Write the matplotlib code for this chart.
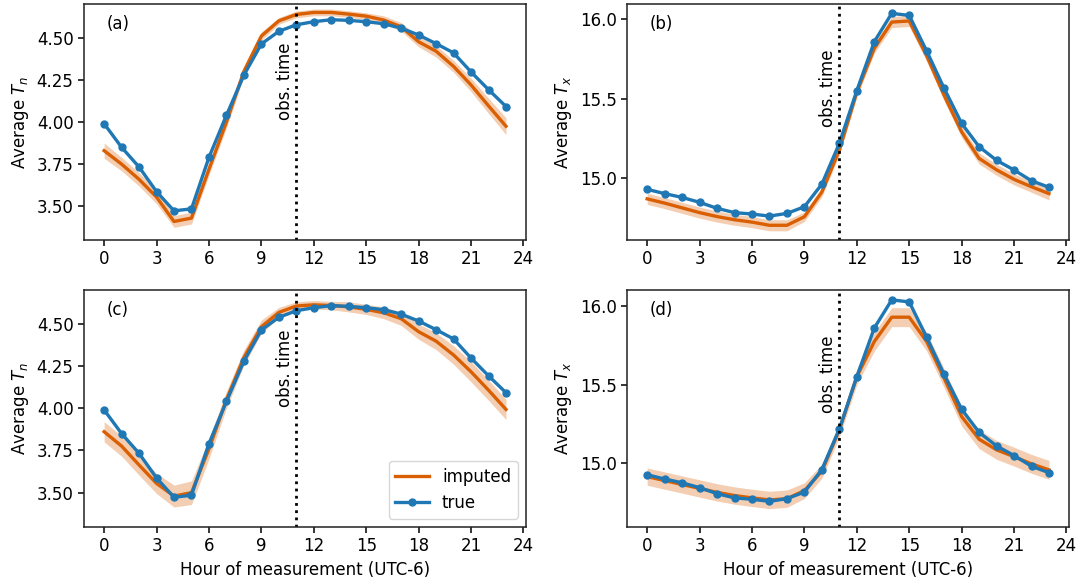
import matplotlib
matplotlib.use("Agg")
import matplotlib.pyplot as plt
import numpy as np

hours = list(range(24))

# True values (same in top and bottom rows)
true_tn = [3.99, 3.85, 3.733, 3.587, 3.473, 3.485, 3.79, 4.04, 4.278, 4.463,
           4.538, 4.577, 4.595, 4.607, 4.603, 4.595, 4.583, 4.557, 4.516, 4.465,
           4.41, 4.297, 4.192, 4.092]
true_tx = [14.927, 14.90, 14.876, 14.845, 14.807, 14.78, 14.771, 14.758, 14.775, 14.817,
           14.96, 15.217, 15.55, 15.859, 16.038, 16.025, 15.80, 15.564, 15.343, 15.196,
           15.11, 15.049, 14.981, 14.94]

# Imputed means
imp_a = [3.83, 3.75, 3.66, 3.555, 3.41, 3.43, 3.72, 4.00, 4.30, 4.51,
         4.60, 4.638, 4.65, 4.65, 4.64, 4.628, 4.605, 4.565, 4.476, 4.42,
         4.33, 4.22, 4.096, 3.975]
imp_b = [14.867, 14.84, 14.81, 14.78, 14.755, 14.735, 14.72, 14.70, 14.70, 14.754,
         14.91, 15.175, 15.54, 15.817, 15.983, 15.99, 15.77, 15.52, 15.29, 15.122,
         15.05, 14.99, 14.943, 14.90]
imp_c = [3.861, 3.776, 3.664, 3.555, 3.48, 3.50, 3.76, 4.05, 4.30, 4.482,
         4.567, 4.605, 4.612, 4.608, 4.60, 4.585, 4.565, 4.53, 4.453, 4.397,
         4.315, 4.216, 4.107, 3.993]
imp_d = [14.915, 14.89, 14.865, 14.84, 14.815, 14.795, 14.78, 14.767, 14.775, 14.826,
         14.95, 15.212, 15.55, 15.773, 15.928, 15.928, 15.773, 15.54, 15.297, 15.153,
         15.085, 15.042, 14.996, 14.958]

# Uncertainty band half-widths
band_a = [0.045, 0.04, 0.04, 0.04, 0.035, 0.035, 0.035, 0.035, 0.03, 0.025,
          0.02, 0.02, 0.02, 0.02, 0.02, 0.02, 0.025, 0.025, 0.03, 0.035,
          0.035, 0.04, 0.045, 0.05]
band_b = [0.035, 0.035, 0.035, 0.035, 0.035, 0.035, 0.035, 0.035, 0.035, 0.03,
          0.03, 0.03, 0.03, 0.03, 0.035, 0.035, 0.035, 0.035, 0.035, 0.035,
          0.035, 0.035, 0.035, 0.04]
band_c = [0.06, 0.06, 0.06, 0.06, 0.065, 0.07, 0.06, 0.05, 0.045, 0.04,
          0.03, 0.025, 0.025, 0.025, 0.03, 0.03, 0.035, 0.04, 0.045, 0.05,
          0.055, 0.06, 0.06, 0.06]
band_d = [0.055, 0.055, 0.055, 0.055, 0.055, 0.055, 0.055, 0.055, 0.055, 0.05,
          0.045, 0.045, 0.05, 0.06, 0.06, 0.06, 0.06, 0.06, 0.06, 0.06,
          0.06, 0.06, 0.06, 0.06]

panel_labels = ["(a)", "(b)", "(c)", "(d)"]
ylabels = [r"Average $T_n$", r"Average $T_x$", r"Average $T_n$", r"Average $T_x$"]
xticks = [0, 3, 6, 9, 12, 15, 18, 21, 24]
obs_hour = 11

ORANGE = "#d95f02"
BLUE = "#1f77b4"

plt.rcParams['font.family'] = ['DejaVu Sans']
plt.rcParams['font.size'] = 12
plt.rcParams['axes.linewidth'] = 1.1
plt.rcParams['xtick.major.width'] = 1.1
plt.rcParams['ytick.major.width'] = 1.1
plt.rcParams['xtick.major.size'] = 4
plt.rcParams['ytick.major.size'] = 4
plt.rcParams['axes.edgecolor'] = '#222222'

fig = plt.figure(figsize=(10.8, 5.82), dpi=100)
positions = [
    [0.0778, 0.5876, 0.4093, 0.4055],
    [0.5806, 0.5876, 0.4093, 0.4055],
    [0.0778, 0.0945, 0.4093, 0.4070],
    [0.5806, 0.0945, 0.4093, 0.4070],
]
imps = [imp_a, imp_b, imp_c, imp_d]
bands = [band_a, band_b, band_c, band_d]
trues = [true_tn, true_tx, true_tn, true_tx]
ylims = [(3.30, 4.70), (14.607, 16.097), (3.297, 4.699), (14.595, 16.10)]
yticks = [[3.5, 3.75, 4.0, 4.25, 4.5], [15.0, 15.5, 16.0],
          [3.5, 3.75, 4.0, 4.25, 4.5], [15.0, 15.5, 16.0]]
yfmt = ["{:.2f}", "{:.1f}", "{:.2f}", "{:.1f}"]
obs_y = [4.01, 15.32, 4.01, 15.32]

for i in range(4):
    ax = fig.add_axes(positions[i])
    h = np.array(hours)
    m = np.array(imps[i])
    b = np.array(bands[i])
    ax.fill_between(h, m - b, m + b, color=ORANGE, alpha=0.3, linewidth=0)
    ax.plot(h, m, color=ORANGE, lw=2.4, label="imputed")
    ax.plot(h, trues[i], color=BLUE, lw=2.4, marker="o", markersize=5, label="true")
    ax.axvline(obs_hour, color="black", ls=(0, (1, 1.6)), lw=2)
    ax.text(obs_hour - 0.15, obs_y[i], "obs. time", rotation=90, ha="right", va="bottom")
    ax.text(0.052, 0.915, panel_labels[i], transform=ax.transAxes, ha="left", va="center")
    ax.set_xlim(-1.15, 24.15)
    ax.set_ylim(*ylims[i])
    ax.set_xticks(xticks)
    ax.set_yticks(yticks[i])
    ax.set_yticklabels([yfmt[i].format(v) for v in yticks[i]])
    ax.set_ylabel(ylabels[i])
    if i >= 2:
        ax.set_xlabel("Hour of measurement (UTC-6)")
    if i == 2:
        ax.legend(loc="lower right", handlelength=2.0)

fig.savefig("out.png", dpi=100)
